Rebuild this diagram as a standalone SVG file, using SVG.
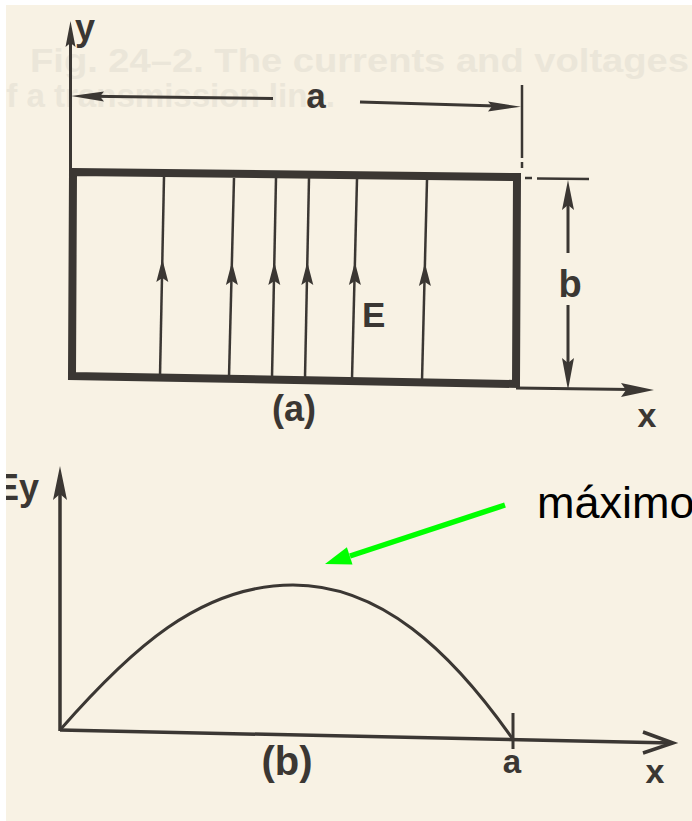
<svg xmlns="http://www.w3.org/2000/svg" width="692" height="821" viewBox="0 0 692 821">
<style>
.ln{stroke:#3b3733;fill:none;stroke-linecap:butt}
.fl{fill:#3b3733;stroke:none}
.lbl{font-family:"Liberation Sans",Arial,sans-serif;font-weight:bold;fill:#3b3733}
.ghost{font-family:"Liberation Sans",Arial,sans-serif;font-weight:bold;fill:#ebe6d9}
</style>
<defs>
<path id="fa" d="M0,0 L-6,23 L0,19 L6,23 Z"/>
</defs>
<rect x="0" y="0" width="692" height="821" fill="#f8f2e4"/>
<g id="ghost-caption">
<text class="ghost" x="30" y="72" font-size="33" textLength="659" lengthAdjust="spacingAndGlyphs">Fig. 24–2.  The currents and voltages</text>
<text class="ghost" x="-14" y="107" font-size="33" textLength="349" lengthAdjust="spacingAndGlyphs">of a transmission line.</text>
</g>
<g id="panel-a">
<g id="y-axis-a">
<line class="ln" x1="70.5" y1="40" x2="70.5" y2="378" stroke-width="3"/>
<path class="fl" d="M70.5,21 L65.5,47 L70.5,43 L75.5,47 Z"/>
<text class="lbl" x="75" y="40" font-size="36">y</text>
</g>
<g id="box-a">
<path class="ln" d="M73,172 L517,177 L516,384 L72,376 Z" stroke-width="8" stroke-linejoin="miter"/>
</g>
<g id="field-lines">
<line class="ln" x1="164" y1="177" x2="160" y2="376" stroke-width="2.5"/>
<line class="ln" x1="234" y1="178" x2="229" y2="377" stroke-width="2.5"/>
<line class="ln" x1="276" y1="178" x2="272" y2="378" stroke-width="2.5"/>
<line class="ln" x1="309" y1="178" x2="305" y2="378" stroke-width="2.5"/>
<line class="ln" x1="357" y1="179" x2="352" y2="379" stroke-width="2.5"/>
<line class="ln" x1="427" y1="180" x2="422" y2="381" stroke-width="2.5"/>
<use href="#fa" class="fl" transform="translate(162.3,259)"/>
<use href="#fa" class="fl" transform="translate(231.9,262)"/>
<use href="#fa" class="fl" transform="translate(274.3,262)"/>
<use href="#fa" class="fl" transform="translate(307.3,262)"/>
<use href="#fa" class="fl" transform="translate(354.9,262)"/>
<use href="#fa" class="fl" transform="translate(424.9,263)"/>
<text class="lbl" x="362" y="327" font-size="35">E</text>
</g>
<g id="dim-a">
<line class="ln" x1="90" y1="96.3" x2="273" y2="98.5" stroke-width="3"/>
<path class="fl" d="M71,96 L104,91.5 L100,96.5 L104,101.5 Z"/>
<line class="ln" x1="360" y1="102" x2="505" y2="106.2" stroke-width="3"/>
<path class="fl" d="M521,106.7 L488,101.5 L492,106.3 L488,111.5 Z"/>
<line class="ln" x1="522" y1="85" x2="522" y2="158" stroke-width="2.5"/>
<line class="ln" x1="522" y1="162" x2="522" y2="168" stroke-width="2.5"/>
<text class="lbl" x="316" y="108" font-size="35" text-anchor="middle">a</text>
</g>
<g id="dim-b">
<line class="ln" x1="525" y1="178" x2="532" y2="178" stroke-width="2.5"/>
<line class="ln" x1="537" y1="178.5" x2="589" y2="179" stroke-width="2.5"/>
<line class="ln" x1="568" y1="200" x2="568" y2="253" stroke-width="3"/>
<path class="fl" d="M568,180 L562,210 L568,205 L574,210 Z"/>
<line class="ln" x1="568" y1="305" x2="568" y2="370" stroke-width="3"/>
<path class="fl" d="M568,390 L562,358 L568,363 L574,358 Z"/>
<text class="lbl" x="570" y="297" font-size="38" text-anchor="middle">b</text>
</g>
<g id="x-axis-a">
<line class="ln" x1="516" y1="388" x2="630" y2="389.6" stroke-width="3"/>
<path class="fl" d="M654,390 L621,383 L626,390 L621,397 Z"/>
<text class="lbl" x="647" y="427" font-size="34" text-anchor="middle">x</text>
</g>
<text class="lbl" x="294" y="421" font-size="36" text-anchor="middle">(a)</text>
</g>
<g id="panel-b">
<g id="axes-b">
<line class="ln" x1="60" y1="490" x2="60" y2="731" stroke-width="3.5"/>
<path class="fl" d="M60,466 L53,500 L60,494 L67,500 Z"/>
<line class="ln" x1="60" y1="730" x2="672" y2="743" stroke-width="3.5"/>
<path class="ln" d="M643,732 L673,743 L643,753" stroke-width="3.5"/>
<line class="ln" x1="513" y1="713" x2="513" y2="749" stroke-width="3"/>
<text class="lbl" x="-5" y="500" font-size="36">Ey</text>
<text class="lbl" x="512" y="773" font-size="33" text-anchor="middle">a</text>
<text class="lbl" x="655" y="783" font-size="34" text-anchor="middle">x</text>
</g>
<g id="curve-b">
<path class="ln" d="M60,730 C130,650 200,585 293,585 C380,585 450,650 512,738" stroke-width="3"/>
</g>
<text class="lbl" x="287" y="775" font-size="40" text-anchor="middle">(b)</text>
</g>
<g id="annotation">
<line x1="505" y1="505" x2="350" y2="556" stroke="#00ff00" stroke-width="5.5"/>
<path d="M325,564 L352.5,564.4 L346.9,547.3 Z" fill="#00ff00"/>
<text x="537" y="518" font-family="Liberation Sans, Arial, sans-serif" font-size="45" fill="#000000">máximo</text>
</g>
<rect x="0" y="0" width="6" height="821" fill="#ffffff"/>
<rect x="0" y="0" width="692" height="5" fill="#ffffff"/>
</svg>
